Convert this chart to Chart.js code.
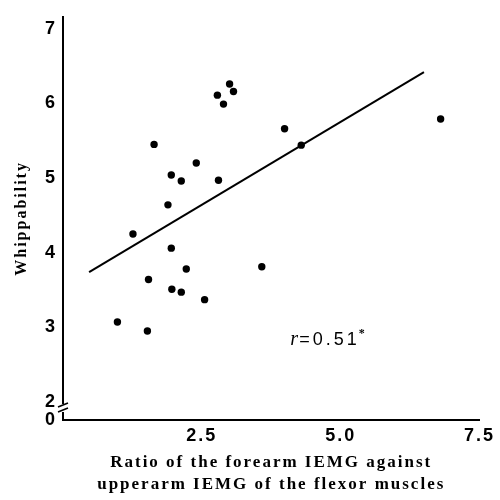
<!DOCTYPE html>
<html>
<head>
<meta charset="utf-8">
<script src="https://cdn.jsdelivr.net/npm/chart.js@4.4.0/dist/chart.umd.min.js"></script>
<style>
  html, body { margin: 0; padding: 0; background: #fff; }
</style>
</head>
<body>
<canvas id="chart" width="500" height="500"></canvas>
<script>
// ratio of forearm / upperarm IEMG for each subject
const ratioX = [1.64, 2.78, 3.00, 3.07, 2.89, 2.40, 1.95, 2.13, 2.80, 1.89, 1.26, 1.95,
  1.54, 2.22, 1.96, 2.13, 2.55, 0.98, 1.52, 3.99, 4.29, 6.80, 3.58]
// whippability score
const whipY = [5.45, 6.11, 6.26, 6.16, 5.99, 5.20, 5.04, 4.96, 4.97, 4.64, 4.25, 4.06,
  3.64, 3.78, 3.51, 3.47, 3.37, 3.07, 2.95, 5.66, 5.44, 5.79, 3.81]

// regression line ends
const fitX = [0.47, 6.50]
const fitY = [3.74, 6.42]

const xTicks = [2.5, 5.0, 7.5]
const yTicks = [2, 3, 4, 5, 6, 7]
const yBottom = 1.757 // drawn as "0" below the axis break
const rLabel = { x: 4.09, y: 2.76 }

const serif = "'Liberation Serif', 'DejaVu Serif', serif"
const sans = "'Liberation Sans', Arial, sans-serif"

const spacing = {
  id: 'spacing',
  beforeLayout(chart) { chart.ctx.letterSpacing = '2px' },
  beforeDraw(chart) { chart.ctx.letterSpacing = '2px' },
}

const notes = {
  id: 'notes',
  afterDraw(chart) {
    const { ctx, scales: { x, y } } = chart
    ctx.save()
    // axis break on y
    const ax = x.left
    const b1 = y.getPixelForValue(yBottom) - 12
    ctx.fillStyle = '#fff'
    ctx.fillRect(ax - 3, b1 - 4, 6, 8)
    ctx.strokeStyle = '#000'
    ctx.lineWidth = 1.6
    ctx.beginPath()
    ctx.moveTo(ax - 5, b1 - 1); ctx.lineTo(ax + 5, b1 - 5)
    ctx.moveTo(ax - 5, b1 + 4); ctx.lineTo(ax + 5, b1)
    ctx.stroke()

    // r value
    const px = x.getPixelForValue(rLabel.x)
    const py = y.getPixelForValue(rLabel.y)
    ctx.fillStyle = '#000'
    ctx.textBaseline = 'alphabetic'
    ctx.letterSpacing = '0px'
    ctx.font = `italic 20px ${serif}`
    ctx.fillText('r', px, py)
    ctx.letterSpacing = '3px'
    ctx.font = `18px ${sans}`
    ctx.fillText('=0.51', px + 9, py)
    const w = ctx.measureText('=0.51').width
    ctx.font = `bold 12px ${serif}`
    ctx.fillText('*', px + 8 + w, py - 8)
    ctx.restore()
  }
}

new Chart(document.getElementById('chart'), {
  type: 'scatter',
  data: {
    datasets: [
      {
        data: fitX.map((v, i) => ({ x: v, y: fitY[i] })),
        showLine: true,
        borderColor: '#000',
        borderWidth: 2,
        pointRadius: 0,
      },
      {
        data: ratioX.map((v, i) => ({ x: v, y: whipY[i] })),
        backgroundColor: '#000',
        borderWidth: 0,
        pointRadius: 3.7,
      },
    ]
  },
  options: {
    responsive: false,
    animation: false,
    devicePixelRatio: 1,
    layout: { padding: { top: 15, right: 12, left: 0, bottom: 0 } },
    plugins: {
      legend: { display: false },
      tooltip: { enabled: false },
    },
    scales: {
      x: {
        type: 'linear',
        min: 0,
        max: 7.5,
        grid: { display: false, drawTicks: false },
        border: { display: true, color: '#000', width: 2 },
        afterBuildTicks: (scale) => { scale.ticks = xTicks.map(v => ({ value: v })) },
        afterFit: (scale) => { scale.height = 80 },
        ticks: {
          color: '#000',
          padding: 5,
          maxRotation: 0,
          font: { family: sans, size: 18, weight: 'bold' },
          callback: (v) => v.toFixed(1),
        },
        title: {
          display: true,
          text: ['Ratio of the forearm IEMG against', 'upperarm IEMG of the flexor muscles'],
          color: '#000',
          font: { family: serif, size: 17, weight: 'bold', lineHeight: 1.3 },
          padding: { top: 0, bottom: 4 },
        },
      },
      y: {
        type: 'linear',
        min: yBottom,
        max: 7.16,
        grid: { display: false, drawTicks: false },
        border: { display: true, color: '#000', width: 2 },
        afterBuildTicks: (scale) => {
          scale.ticks = [{ value: yBottom }].concat(yTicks.map(v => ({ value: v })))
        },
        afterFit: (scale) => { scale.width = 63 },
        ticks: {
          color: '#000',
          padding: 6,
          font: { family: sans, size: 18, weight: 'bold' },
          callback: (v) => (v === yBottom ? '0' : String(v)),
        },
        title: {
          display: true,
          text: 'Whippability',
          color: '#000',
          font: { family: serif, size: 16, weight: '600' },
          padding: { top: 12, bottom: 0 },
        },
      },
    },
  },
  plugins: [spacing, notes],
})
</script>
</body>
</html>
